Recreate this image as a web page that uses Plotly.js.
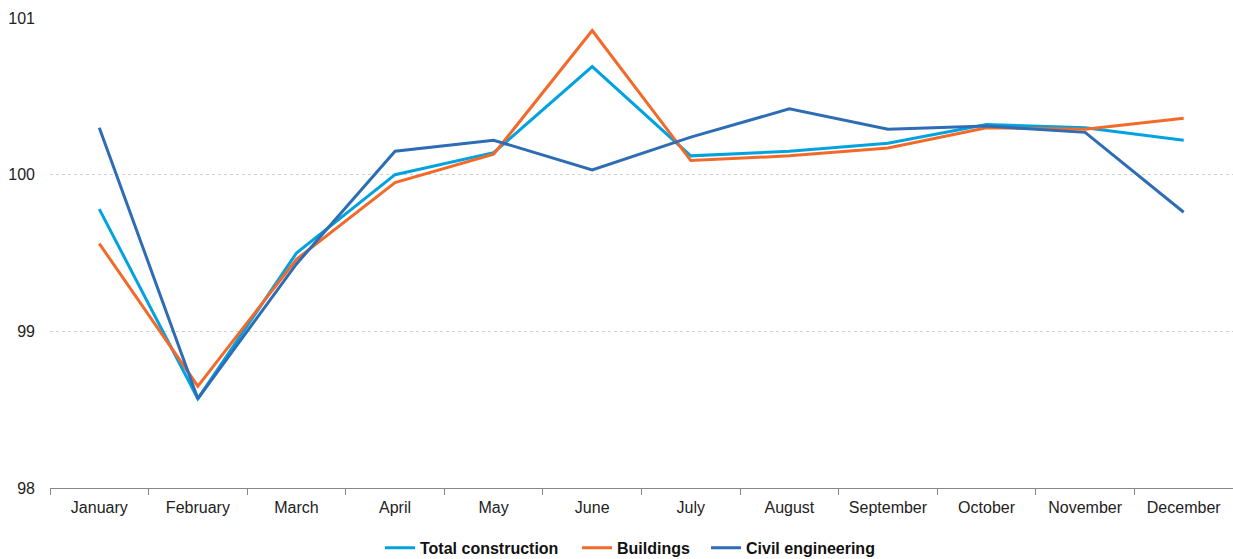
<!DOCTYPE html>
<html>
<head>
<meta charset="utf-8">
<script src="https://cdn.plot.ly/plotly-3.0.1.min.js"></script>
<style>html,body{margin:0;padding:0;background:#fff;}#chart{width:1233px;height:559px;}</style>
</head>
<body>
<div id="chart"></div>
<script>
const months = ["January","February","March","April","May","June","July","August","September","October","November","December"];
const totalConstruction = [99.78, 98.57, 99.50, 100.00, 100.14, 100.69, 100.12, 100.15, 100.20, 100.32, 100.30, 100.22];
const buildings = [99.56, 98.65, 99.46, 99.95, 100.13, 100.92, 100.09, 100.12, 100.17, 100.30, 100.29, 100.36];
const civilEngineering = [100.30, 98.57, 99.43, 100.15, 100.22, 100.03, 100.24, 100.42, 100.29, 100.31, 100.27, 99.76];
const yTicks = [98, 99, 100, 101];

const mk = (name, y, color, legend) => ({
  type: "scatter", mode: "lines", name, x: months, y, legend,
  line: {color, width: 3}
});

const data = [
  mk("Total construction", totalConstruction, "#00A3E0", "legend"),
  mk("Buildings", buildings, "#F26A2A", "legend2"),
  mk("Civil engineering", civilEngineering, "#2E6DB4", "legend3")
];

const legendBase = (xpx) => ({
  orientation: "h", xref: "container", x: xpx / 1233, xanchor: "left",
  yref: "container", y: 0.02, yanchor: "middle",
  font: {size: 16, color: "#111", weight: "bold"}, itemwidth: 30,
  bgcolor: "rgba(0,0,0,0)"
});

const layout = {
  width: 1233, height: 559,
  margin: {l: 50, r: 0, t: 18, b: 71, autoexpand: false},
  paper_bgcolor: "#fff", plot_bgcolor: "#fff",
  font: {family: "Liberation Sans, Arial, sans-serif", size: 16, color: "#222"},
  showlegend: true,
  legend: legendBase(380),
  legend2: legendBase(577),
  legend3: legendBase(706),
  xaxis: {
    type: "category", tickson: "boundaries", ticks: "outside", ticklen: 6, tickcolor: "#888",
    showline: true, linecolor: "#888", linewidth: 1, showgrid: false, zeroline: false,
    range: [-0.5, 11.5], tickfont: {size: 16, color: "#222"}, ticklabelstandoff: 5
  },
  yaxis: {
    range: [98, 101], tickvals: yTicks, ticktext: yTicks.map(String),
    showgrid: true, gridcolor: "#d0d0d0", griddash: "dot", gridwidth: 1,
    zeroline: false, showline: false, ticks: "", ticklabelstandoff: 14,
    tickfont: {size: 16, color: "#222"}
  }
};

Plotly.newPlot("chart", data, layout, {displayModeBar: false, staticPlot: true});
</script>
</body>
</html>
